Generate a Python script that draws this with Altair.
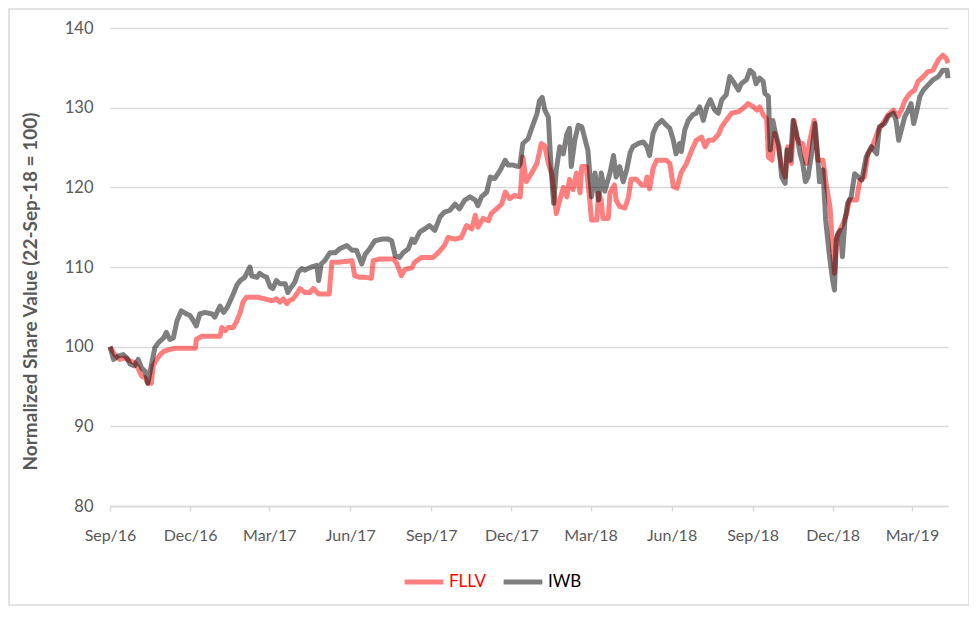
import altair as alt
import pandas as pd

START = "2016-09-23"
END = "2019-05-03"

series_names = ["FLLV", "IWB"]
series_colors = ["#FF0000", "#000000"]
y_ticks = [80, 90, 100, 110, 120, 130, 140]
x_tick_dates = ["2016-09-23", "2016-12-23", "2017-03-23", "2017-06-23", "2017-09-23",
                "2017-12-23", "2018-03-23", "2018-06-23", "2018-09-23", "2018-12-23",
                "2019-03-23"]

# days after START, value
fllv_days = [0, 6, 11, 17, 23, 28, 32, 36, 40, 43, 47, 49, 53, 57, 61, 66, 74, 97, 98, 104,
             125, 127, 131, 134, 140, 144, 148, 151, 155, 168, 176, 182, 185, 189, 193, 197,
             201, 204, 208, 212, 216, 221, 227, 231, 237, 249, 252, 259, 267, 275, 278, 284,
             290, 297, 299, 307, 322, 326, 331, 335, 343, 346, 354, 367, 373, 380, 384, 392,
             399, 405, 411, 415, 418, 424, 430, 433, 439, 445, 449, 454, 460, 466, 469, 473,
             479, 485, 490, 494, 498, 502, 507, 511, 515, 519, 522, 526, 530, 534, 536, 541,
             545, 547, 553, 555, 558, 560, 566, 568, 573, 575, 579, 585, 589, 592, 598, 604,
             608, 610, 613, 617, 621, 623, 632, 636, 640, 644, 649, 655, 661, 666, 672, 676,
             680, 685, 691, 695, 700, 706, 714, 719, 725, 731, 735, 738, 742, 746, 748, 752,
             755, 759, 763, 767, 770, 774, 777, 780, 784, 787, 791, 795, 800, 804, 810, 814,
             818, 821, 823, 826, 829, 833, 837, 840, 848, 852, 857, 861, 866, 873, 878, 884,
             890, 895, 899, 903, 909, 914, 918, 924, 929, 935, 941, 946, 950, 952]
fllv_values = [100.0, 98.9, 98.4, 98.6, 98.2, 98.0, 97.3, 96.3, 96.1, 95.4, 95.4, 97.6, 98.4,
               99.0, 99.4, 99.6, 99.8, 99.8, 100.9, 101.3, 101.3, 102.4, 102.0, 102.4, 102.4,
               103.2, 104.3, 105.6, 106.2, 106.2, 106.0, 105.8, 105.8, 106.0, 105.6, 106.0,
               105.4, 105.8, 106.0, 106.6, 107.3, 106.8, 106.8, 107.3, 106.6, 106.6, 110.6,
               110.6, 110.7, 110.8, 108.9, 108.7, 108.7, 108.6, 110.8, 111.0, 111.0, 110.4,
               108.9, 109.7, 109.9, 110.6, 111.2, 111.2, 111.8, 112.7, 113.7, 113.5, 113.7,
               115.2, 114.8, 116.5, 115.0, 116.1, 115.8, 116.7, 117.3, 117.9, 119.4, 118.6,
               119.0, 118.8, 123.8, 120.7, 121.8, 123.0, 125.5, 125.2, 123.0, 121.6, 116.7,
               118.4, 120.0, 118.8, 121.0, 119.7, 121.8, 119.3, 122.6, 122.6, 118.4, 115.9,
               115.9, 119.3, 118.4, 116.1, 116.1, 119.3, 120.3, 118.4, 117.6, 117.4, 118.8,
               121.0, 121.0, 120.3, 120.3, 121.3, 119.8, 122.4, 123.4, 123.4, 123.4, 123.0,
               120.1, 119.9, 121.9, 123.0, 124.7, 125.9, 126.3, 125.1, 125.9, 125.9, 126.6,
               127.6, 128.4, 129.3, 129.5, 129.9, 130.5, 130.1, 129.7, 130.1, 129.1, 128.6,
               123.8, 123.4, 126.8, 125.1, 122.6, 121.3, 125.1, 123.0, 128.4, 126.3, 125.5,
               125.5, 123.0, 125.9, 128.4, 123.4, 123.4, 120.1, 117.5, 112.1, 109.2, 113.8,
               114.6, 115.5, 116.7, 118.4, 118.4, 120.9, 121.3, 124.2, 125.1, 127.2, 128.0,
               129.1, 129.7, 128.9, 129.7, 130.9, 131.8, 132.2, 133.3, 133.9, 134.5, 134.7,
               136.0, 136.6, 136.2, 135.6]

iwb_days = [0, 4, 9, 15, 19, 23, 28, 32, 36, 40, 43, 51, 55, 61, 64, 68, 72, 76, 81, 87, 91,
            95, 98, 102, 108, 116, 119, 125, 129, 133, 136, 140, 144, 148, 153, 159, 161, 167,
            170, 174, 178, 182, 185, 189, 193, 199, 202, 206, 210, 214, 218, 221, 225, 229,
            235, 237, 240, 244, 250, 256, 261, 269, 275, 280, 286, 290, 295, 301, 309, 316,
            320, 324, 329, 333, 339, 343, 346, 352, 358, 363, 369, 375, 380, 386, 392, 397,
            403, 409, 415, 418, 422, 428, 432, 437, 443, 449, 452, 458, 464, 466, 469, 475,
            479, 485, 488, 491, 494, 498, 500, 502, 504, 507, 511, 515, 519, 522, 524, 528,
            532, 536, 539, 543, 547, 551, 555, 558, 562, 568, 572, 575, 579, 583, 587, 591,
            594, 600, 606, 610, 613, 617, 621, 627, 632, 636, 640, 643, 647, 649, 653, 657,
            662, 666, 670, 674, 678, 682, 687, 691, 695, 700, 704, 708, 714, 717, 723, 727,
            731, 734, 738, 742, 744, 748, 750, 753, 756, 760, 763, 767, 769, 773, 776, 780,
            784, 787, 790, 793, 797, 801, 804, 806, 810, 813, 817, 821, 823, 825, 827, 830,
            832, 835, 838, 842, 846, 850, 854, 859, 865, 871, 874, 880, 884, 890, 893, 896,
            899, 903, 907, 910, 913, 916, 920, 924, 929, 935, 941, 946, 951, 952]
iwb_values = [100.0, 98.4, 98.8, 99.0, 98.6, 97.8, 97.6, 98.4, 97.3, 96.9, 95.4, 99.9, 100.5,
              101.1, 101.8, 100.9, 101.1, 103.2, 104.5, 104.1, 103.9, 103.2, 102.6, 104.1,
              104.3, 104.1, 103.7, 105.1, 104.3, 104.9, 105.6, 106.6, 107.7, 108.3, 108.7,
              110.0, 108.9, 108.7, 109.2, 108.9, 108.7, 107.5, 107.3, 108.3, 107.9, 107.9,
              106.8, 107.5, 108.1, 109.4, 109.8, 109.6, 109.8, 110.0, 110.2, 108.3, 110.4,
              110.8, 111.8, 111.8, 112.3, 112.7, 112.1, 112.1, 110.4, 111.6, 112.3, 113.3,
              113.5, 113.5, 113.3, 111.4, 111.2, 111.8, 112.3, 113.5, 113.1, 114.4, 114.8,
              115.2, 114.6, 116.3, 116.9, 117.1, 117.9, 117.3, 118.4, 118.8, 118.4, 117.7,
              118.8, 119.4, 121.3, 121.1, 122.1, 123.4, 122.8, 122.8, 122.6, 123.0, 125.5,
              126.1, 127.4, 129.2, 130.9, 131.3, 129.7, 128.8, 124.6, 121.0, 118.0, 122.2,
              125.1, 124.2, 126.7, 127.4, 122.6, 125.9, 127.8, 127.6, 126.3, 124.6, 118.8,
              121.8, 118.4, 121.8, 119.5, 121.8, 124.0, 121.3, 122.6, 120.7, 122.2, 124.4,
              125.1, 125.5, 125.7, 125.1, 124.0, 126.8, 127.8, 128.4, 127.8, 127.4, 125.9,
              124.2, 125.5, 124.5, 127.2, 128.4, 129.1, 129.3, 130.1, 128.4, 130.1, 131.0,
              129.7, 129.3, 131.0, 131.6, 133.9, 133.3, 132.2, 133.0, 133.5, 134.7, 134.3,
              133.0, 133.7, 133.3, 131.8, 131.4, 124.7, 128.4, 126.8, 125.1, 121.3, 120.5,
              124.7, 123.4, 128.4, 126.8, 124.2, 123.0, 120.7, 121.3, 124.2, 128.0, 123.8,
              120.7, 122.2, 115.9, 111.7, 108.3, 107.1, 113.4, 114.2, 114.6, 111.3, 115.9,
              118.0, 118.8, 121.7, 121.3, 120.9, 123.8, 125.1, 124.2, 127.6, 128.0, 128.9,
              129.3, 128.4, 125.9, 127.2, 128.9, 129.7, 130.5, 128.0, 129.3, 131.4, 132.2,
              132.8, 133.5, 133.9, 134.7, 134.7, 133.7]


def series_frame(name, days, values):
    dates = pd.to_datetime(START) + pd.to_timedelta(days, unit="D")
    return pd.DataFrame({"date": dates.strftime("%Y-%m-%d"), "value": values, "series": name})


df = pd.concat([series_frame("FLLV", fllv_days, fllv_values),
                series_frame("IWB", iwb_days, iwb_values)], ignore_index=True)


def utc(s):
    y, m, d = (int(p) for p in s.split("-"))
    return alt.DateTime(year=y, month=m, date=d, utc=True)


FONT = "Lato"
GREY = "#595959"

lines = alt.Chart(df).mark_line(strokeWidth=5, strokeOpacity=0.5, strokeJoin="round").encode(
    x=alt.X("date:T",
            scale=alt.Scale(type="utc", domain=[utc(START), utc(END)]),
            axis=alt.Axis(values=[utc(s) for s in x_tick_dates], format="%b/%y", title=None,
                          grid=False, domain=True, domainColor="#d9d9d9", domainWidth=1.5,
                          ticks=True, tickColor="#d9d9d9", tickWidth=1.5, tickSize=5,
                          labelPadding=16, labelFontSize=16, labelFlush=False,
                          labelOverlap=False)),
    y=alt.Y("value:Q",
            scale=alt.Scale(domain=[80, 140], nice=False, zero=False),
            axis=alt.Axis(values=y_ticks, title="Normalized Share Value (22-Sep-18 = 100)",
                          grid=True, gridColor="#d9d9d9", gridWidth=1.5, domain=False,
                          ticks=False, labelPadding=17, labelFontSize=16.5,
                          titleFontSize=19, titleFontWeight="bold", titlePadding=24,
                          titleY=263)),
    color=alt.Color("series:N",
                    scale=alt.Scale(domain=series_names, range=series_colors),
                    legend=alt.Legend(orient="none", legendX=292, legendY=532,
                                      direction="horizontal", title=None,
                                      symbolType="stroke", symbolStrokeWidth=5,
                                      symbolSize=1500, symbolOpacity=0.5,
                                      labelFont=FONT, labelFontSize=17, labelOffset=3,
                                      columnPadding=6,
                                      labelColor={"expr": "datum.label == 'FLLV' ? '#FF0000' : '#000000'"})),
)

frame = alt.Chart(pd.DataFrame({"k": [0]})).mark_rect(
    fillOpacity=0, stroke="#d9d9d9", strokeWidth=1.5
).encode(x=alt.value(-101), x2=alt.value(859), y=alt.value(-19), y2=alt.value(577))

chart = alt.layer(frame, lines).properties(
    width=838, height=478,
    padding={"left": 102, "top": 20, "right": 21, "bottom": 100},
    autosize=alt.AutoSizeParams(type="none"),
    background="white",
).configure_axis(
    labelFont=FONT, labelColor=GREY, titleFont=FONT, titleColor=GREY,
).configure_view(strokeWidth=0)

chart.save("out.html", embed_options={"renderer": "svg", "actions": False})
